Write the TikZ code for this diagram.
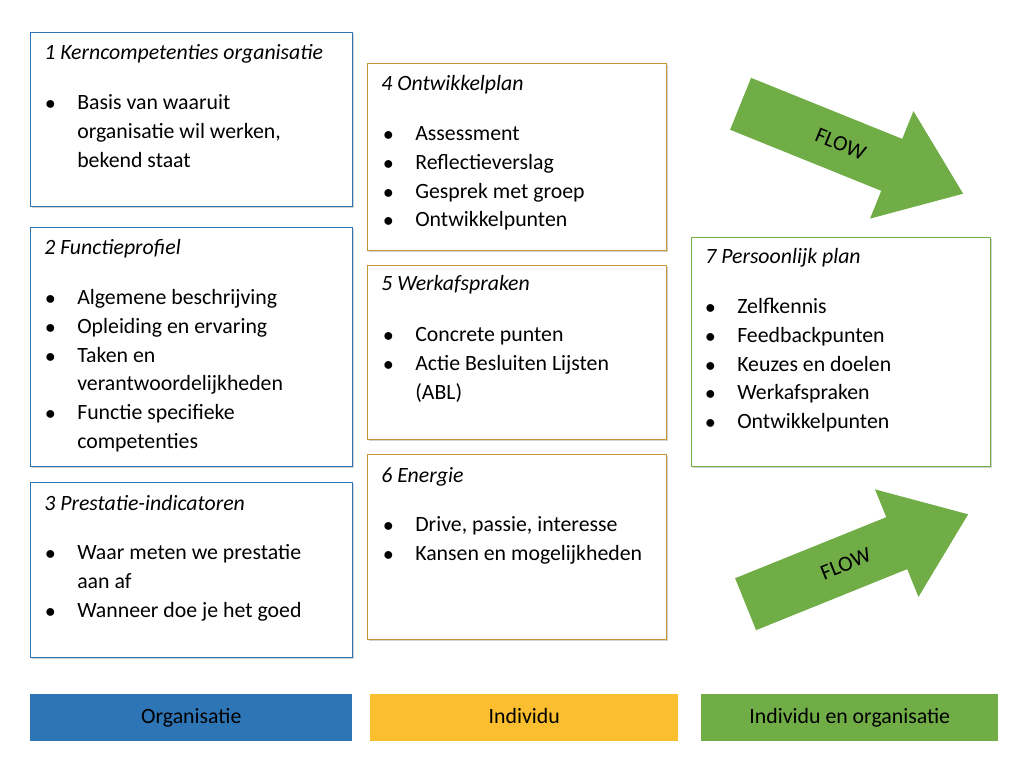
\documentclass[tikz,border=0pt]{standalone}
\usepackage{fontspec}
\setmainfont{Carlito}
\usetikzlibrary{shadows}
\definecolor{orgblue}{RGB}{46,117,182}
\definecolor{indorange}{RGB}{251,190,46}
\definecolor{flowgreen}{RGB}{112,173,71}
\definecolor{boxgold}{RGB}{200,150,50}

\tikzset{
  card/.style={draw=#1, fill=white, line width=0.7pt, anchor=north west,
    drop shadow={shadow xshift=1.2pt, shadow yshift=-1.2pt, opacity=0.35}},
  head/.style={anchor=base west, inner sep=0pt, font=\fontsize{15.5}{19}\selectfont\itshape},
  list/.style={anchor=north west, inner sep=0pt, align=left,
    font=\fontsize{15.5}{20.5}\selectfont},
  bar/.style={fill=#1, anchor=north west, text height=11pt, text depth=3pt,
    font=\fontsize{15.5}{19}\selectfont},
  flow/.style={fill=flowgreen}
}
\newcommand{\bl}[1]{\begin{tabular}{@{}p{0.8cm}@{}l@{}}#1\end{tabular}}
\newcommand{\flowarrow}[3]{% center, angle, name
  \begin{scope}[shift={#1}, rotate=#2]
    \fill[flow] (-118,-28) -- (45,-28) -- (45,-58) -- (122,0) -- (45,58)
      -- (45,28) -- (-118,28) -- cycle;
    \node[rotate=#2, font=\fontsize{15.5}{19}\selectfont] (#3) at (-10,0) {FLOW};
  \end{scope}}

\begin{document}
\begin{tikzpicture}[x=0.025cm, y=-0.025cm]
  \useasboundingbox (0,0) rectangle (1024,773);

  % column 1
  \node[card=orgblue, minimum width=322*0.025cm, minimum height=174*0.025cm] (k1) at (30,32) {};
  \node[head] (h1) at (44,60) {1 Kerncompetenties organisatie};
  \node[list] (l1) at (45,89) {\bl{$\bullet$ & Basis van waaruit\\ & organisatie wil werken,\\ & bekend staat}};

  \node[card=orgblue, minimum width=322*0.025cm, minimum height=239*0.025cm] (k2) at (30,227) {};
  \node[head] (h2) at (44,255) {2 Functieprofiel};
  \node[list] (l2) at (45,284) {\bl{$\bullet$ & Algemene beschrijving\\ $\bullet$ & Opleiding en ervaring\\
    $\bullet$ & Taken en\\ & verantwoordelijkheden\\ $\bullet$ & Functie specifieke\\ & competenties}};

  \node[card=orgblue, minimum width=322*0.025cm, minimum height=175*0.025cm] (k3) at (30,482) {};
  \node[head] (h3) at (44,510) {3 Prestatie-indicatoren};
  \node[list] (l3) at (45,539) {\bl{$\bullet$ & Waar meten we prestatie\\ & aan af\\ $\bullet$ & Wanneer doe je het goed}};

  % column 2
  \node[card=boxgold, minimum width=299*0.025cm, minimum height=187*0.025cm] (k4) at (367,63) {};
  \node[head] (h4) at (381,91) {4 Ontwikkelplan};
  \node[list] (l4) at (383,120) {\bl{$\bullet$ & Assessment\\ $\bullet$ & Reflectieverslag\\
    $\bullet$ & Gesprek met groep\\ $\bullet$ & Ontwikkelpunten}};

  \node[card=boxgold, minimum width=299*0.025cm, minimum height=174*0.025cm] (k5) at (367,265) {};
  \node[head] (h5) at (381,291) {5 Werkafspraken};
  \node[list] (l5) at (383,321) {\bl{$\bullet$ & Concrete punten\\ $\bullet$ & Actie Besluiten Lijsten\\ & (ABL)}};

  \node[card=boxgold, minimum width=299*0.025cm, minimum height=185*0.025cm] (k6) at (367,454) {};
  \node[head] (h6) at (381,482) {6 Energie};
  \node[list] (l6) at (383,511) {\bl{$\bullet$ & Drive, passie, interesse\\ $\bullet$ & Kansen en mogelijkheden}};

  % column 3
  \node[card=flowgreen, minimum width=299*0.025cm, minimum height=229*0.025cm] (k7) at (691,237) {};
  \node[head] (h7) at (705,264) {7 Persoonlijk plan};
  \node[list] (l7) at (705,293) {\bl{$\bullet$ & Zelfkennis\\ $\bullet$ & Feedbackpunten\\
    $\bullet$ & Keuzes en doelen\\ $\bullet$ & Werkafspraken\\ $\bullet$ & Ontwikkelpunten}};

  \flowarrow{(850,148)}{-22}{f1}
  \flowarrow{(855,560)}{22}{f2}

  % legend bars
  \node[bar=orgblue, minimum width=322*0.025cm, minimum height=47*0.025cm] (b1) at (30,694) {Organisatie};
  \node[bar=indorange, minimum width=308*0.025cm, minimum height=47*0.025cm] (b2) at (370,694) {Individu};
  \node[bar=flowgreen, minimum width=297*0.025cm, minimum height=47*0.025cm] (b3) at (701,694) {Individu en organisatie};
\end{tikzpicture}
\end{document}
